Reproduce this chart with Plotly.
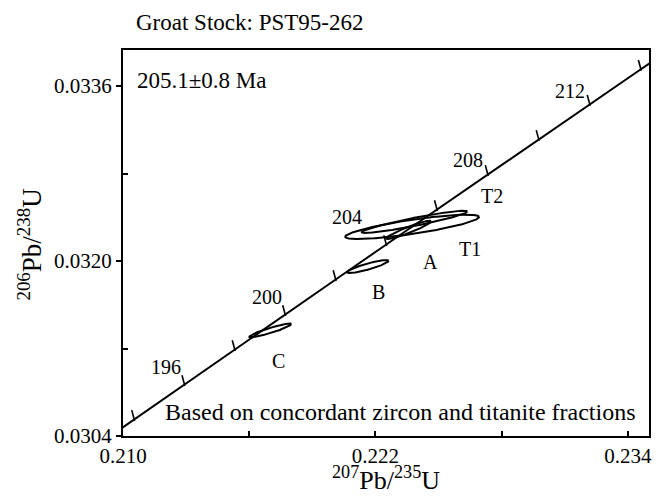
import numpy as np
import plotly.graph_objects as go

# ---------------- data ----------------
# Concordia curve: age (Ma) and corresponding ratios
concordia_age = [192, 194, 196, 198, 200, 202, 204, 206, 208, 210, 212, 214, 216]
concordia_x = [0.208151, 0.210533, 0.212921, 0.215311, 0.217708, 0.220109, 0.222514,
               0.224924, 0.227339, 0.229759, 0.232184, 0.234613, 0.237047]
concordia_y = [0.0302319, 0.0305517, 0.0308714, 0.0311913, 0.0315113, 0.0318314, 0.0321515,
               0.0324718, 0.0327922, 0.0331127, 0.0334332, 0.0337539, 0.0340746]
tick_ages = [194, 196, 198, 200, 202, 204, 206, 208, 210, 212, 214]
labeled_ages = [196, 200, 204, 208, 212]

# Analysed fractions (centre, 2-sigma errors, error correlation)
fraction_names = ["A", "B", "C", "T1", "T2"]
fraction_x = [0.223575, 0.221636, 0.217000, 0.223740, 0.223859]
fraction_y = [0.0322850, 0.0319494, 0.0313655, 0.0323126, 0.0323586]
fraction_xerr = [0.001061, 0.000985, 0.000996, 0.003182, 0.002507]
fraction_yerr = [0.0000832, 0.0000594, 0.0000631, 0.0001113, 0.0001014]
fraction_rho = [0.935, 0.876, 0.923, 0.811, 0.929]

x_tick_vals = [0.210, 0.222, 0.234]
x_tick_text = ["0.210", "0.222", "0.234"]
y_tick_vals = [0.0304, 0.0320, 0.0336]
y_tick_text = ["0.0304", "0.0320", "0.0336"]

title_text = "Groat Stock: PST95-262"
age_text = "205.1\u00b10.8 Ma"
note_text = "Based on concordant zircon and titanite fractions"

# ---------------- styling (pixel offsets) ----------------
age_label_shift = {196: (-18, 17), 200: (-18, 17), 204: (-39, 27), 208: (-20, 14), 212: (-20, 13)}
frac_label_shift = {"A": (22, -32), "B": (11, -25), "C": (8, -31), "T1": (58, -22), "T2": (77, 26)}

FONT = "Liberation Serif"
fig = go.Figure()

# concordia
fig.add_trace(go.Scatter(x=concordia_x, y=concordia_y, mode="lines",
                         line=dict(color="black", width=2), hoverinfo="skip"))

# age tick marks on the concordia (one-sided short strokes, up-left side)
idx = {a: i for i, a in enumerate(concordia_age)}
fig.add_trace(go.Scatter(
    x=[concordia_x[idx[a]] for a in tick_ages],
    y=[concordia_y[idx[a]] for a in tick_ages],
    mode="markers", hoverinfo="skip",
    marker=dict(symbol="line-ns", size=8, angle=165, standoff=4,
                color="black", line=dict(color="black", width=1.6))))

# error ellipses
t = np.linspace(0, 2 * np.pi, 200)
for name, cx, cy, sx, sy, r in zip(fraction_names, fraction_x, fraction_y,
                                   fraction_xerr, fraction_yerr, fraction_rho):
    ex = cx + sx * np.cos(t)
    ey = cy + sy * (r * np.cos(t) + np.sqrt(1 - r * r) * np.sin(t))
    fig.add_trace(go.Scatter(x=ex, y=ey, mode="lines",
                             line=dict(color="black", width=2), hoverinfo="skip"))

annotations = []
# age labels
for a in labeled_ages:
    i = idx[a]
    dx, dy = age_label_shift[a]
    annotations.append(dict(x=concordia_x[i], y=concordia_y[i], xref="x", yref="y",
                            text=str(a), showarrow=False, xshift=dx, yshift=dy,
                            font=dict(family=FONT, size=20, color="black")))
# fraction labels
for name, cx, cy in zip(fraction_names, fraction_x, fraction_y):
    dx, dy = frac_label_shift[name]
    annotations.append(dict(x=cx, y=cy, xref="x", yref="y", text=name, showarrow=False,
                            xshift=dx, yshift=dy,
                            font=dict(family=FONT, size=20, color="black")))

# texts
annotations += [
    dict(x=(134 - 123) / 529, y=1 + (50 - 23) / 386, xref="paper", yref="paper",
         text=title_text, showarrow=False, xanchor="left", yanchor="middle",
         font=dict(family=FONT, size=23, color="black")),
    dict(x=(135 - 123) / 529, y=1 - (80 - 50) / 386, xref="paper", yref="paper",
         text=age_text, showarrow=False, xanchor="left", yanchor="middle",
         font=dict(family=FONT, size=23, color="black")),
    dict(x=(402 - 123) / 529, y=(436 - 412) / 386, xref="paper", yref="paper",
         text=note_text, showarrow=False, xanchor="center", yanchor="middle",
         font=dict(family=FONT, size=24, color="black")),
    dict(x=(388 - 123) / 529, y=-(497 - 436) / 386, xref="paper", yref="paper",
         text="<sup>207</sup>Pb/<sup>235</sup>U", showarrow=False,
         xanchor="center", yanchor="bottom",
         font=dict(family=FONT, size=26, color="black")),
    dict(x=-(123 - 29) / 529, y=(436 - 245) / 386, xref="paper", yref="paper",
         text="<sup>206</sup>Pb/<sup>238</sup>U", showarrow=False, textangle=-90,
         xanchor="center", yanchor="middle",
         font=dict(family=FONT, size=27, color="black")),
]

fig.update_layout(
    width=659, height=498,
    margin=dict(l=123, r=7, t=50, b=62),
    paper_bgcolor="white", plot_bgcolor="white",
    showlegend=False,
    annotations=annotations,
    xaxis=dict(range=[0.210, 0.235], showgrid=False, zeroline=False,
               showline=True, mirror=True, linecolor="black", linewidth=2,
               tickmode="array", tickvals=x_tick_vals, ticktext=x_tick_text,
               ticks="inside", ticklen=5, tickwidth=1.5, tickcolor="black",
               minor=dict(ticks="inside", tickmode="array", tickvals=[0.216, 0.228],
                          ticklen=5, tickwidth=1.5, tickcolor="black"),
               tickfont=dict(family=FONT, size=21, color="black")),
    yaxis=dict(range=[0.0304, 0.03393], showgrid=False, zeroline=False,
               showline=True, mirror=True, linecolor="black", linewidth=2,
               tickmode="array", tickvals=y_tick_vals, ticktext=y_tick_text,
               ticks="outside", ticklen=5, tickwidth=1.5, tickcolor="black",
               minor=dict(ticks="inside", tickmode="array", tickvals=[0.0312, 0.0328],
                          ticklen=5, tickwidth=1.5, tickcolor="black"),
               tickfont=dict(family=FONT, size=21, color="black")),
)

fig.write_html("out.html", config={"displayModeBar": False},
               post_script="document.body.style.margin='0';")
